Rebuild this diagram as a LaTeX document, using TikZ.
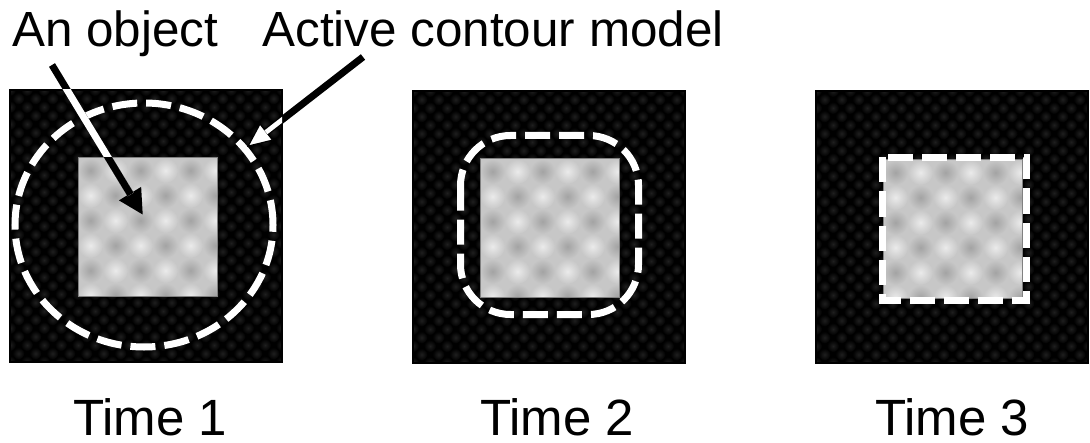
\documentclass[tikz,border=0pt]{standalone}
\usepackage{fontspec}
\setmainfont{Liberation Sans}
\usetikzlibrary{arrows.meta}

\tikzset{
	txt/.style = {inner sep = 0pt, font = \fontsize{24.7pt}{29pt}\selectfont},
	timetxt/.style = {inner sep = 0pt, font = \fontsize{25.5pt}{30pt}\selectfont},
	snake/.style = {white, line width = 3.5pt, dash pattern = on 12.5pt off 4.5pt},
	objarrow/.style = {line width = 3.5pt, -{Triangle[length = 12.5pt, width = 12pt]}},
	snakearrow/.style = {line width = 3.5pt, -{Triangle[length = 12.5pt, width = 11pt, fill = white, line width = 0.6pt]}},
}

% dark image with faint dots, grey object with blurred checks on it
% #1,#2 = image corner, #3,#4 = object corner
\newcommand{\imgpanel}[4]{%
	\fill[black] (#1,#2) rectangle ++(272,272);
	\begin{scope}
		\clip (#1,#2) rectangle ++(272,272);
		\foreach \i in {0,...,16}
			\foreach \j in {0,...,32}
				\shade[inner color = black!88!white, outer color = black]
					({#1+17*\i+8.5*mod(\j,2)},{#2+8.5*\j}) circle (3pt);
	\end{scope}
	\draw[black, line width = 0.8pt] (#1,#2) rectangle ++(272,272);
	\fill[black!22] (#3,#4) rectangle ++(139,138);
	\begin{scope}
		\clip (#3,#4) rectangle ++(139,138);
		\foreach \i in {0,...,5}
			\foreach \j in {0,...,5} {
				\pgfmathparse{int(mod(\i+\j,2))}
				\ifnum\pgfmathresult=0 \def\blob{black!36}\else \def\blob{black!8}\fi
				\shade[inner color = \blob, outer color = black!22]
					({#3+12.5+25*\i},{#4+12.5+25*\j}) circle (6.3pt);
			}
	\end{scope}
	\draw[black!50, line width = 0.5pt] (#3,#4) rectangle ++(139,138);
}

\begin{document}
\begin{tikzpicture}[x = 0.5pt, y = -0.5pt]
	\useasboundingbox (0,0) rectangle (1090,443);

	\imgpanel{10}{90}{78}{158}
	\imgpanel{413}{91}{480}{159}
	\imgpanel{816}{91}{883}{160}

	% the contour at three times
	\draw[snake] (144,225) ellipse [x radius = 64.5pt, y radius = 61pt];
	\draw[snake, rounded corners = 25pt] (460.5,135.5) rectangle (638.5,314.5);
	\draw[snake] (882.5,157.5) rectangle (1026.5,300.5);

	\node[txt, anchor = base west] (objtext) at (12,47) {An object};
	\node[txt, anchor = base west] (snaketext) at (262,47) {Active contour model};

	\node[timetxt, anchor = base] (time1) at (150,435) {Time 1};
	\node[timetxt, anchor = base] (time2) at (557,435) {Time 2};
	\node[timetxt, anchor = base] (time3) at (952,435) {Time 3};

	\coordinate (objtail) at (52,65);
	\coordinate (objtip) at (143,215);
	\coordinate (snaketail) at (363,57);
	\coordinate (snaketip) at (247,147);

	% arrows turn white where they cross the dark image
	\draw[objarrow] (objtail) -- (objtip);
	\begin{scope}
		\clip (10,90) rectangle (282,363);
		\draw[white, line width = 3.5pt, shorten >= 12pt] (objtail) -- (objtip);
	\end{scope}
	\begin{scope}
		\clip (78,158) rectangle (217,296);
		\draw[black, line width = 3.5pt, shorten >= 12pt] (objtail) -- (objtip);
	\end{scope}

	\draw[snakearrow] (snaketail) -- (snaketip);
	\begin{scope}
		\clip (10,90) rectangle (282,363);
		\draw[white, line width = 2.4pt, shorten >= 12pt] (snaketail) -- (snaketip);
	\end{scope}
\end{tikzpicture}
\end{document}
